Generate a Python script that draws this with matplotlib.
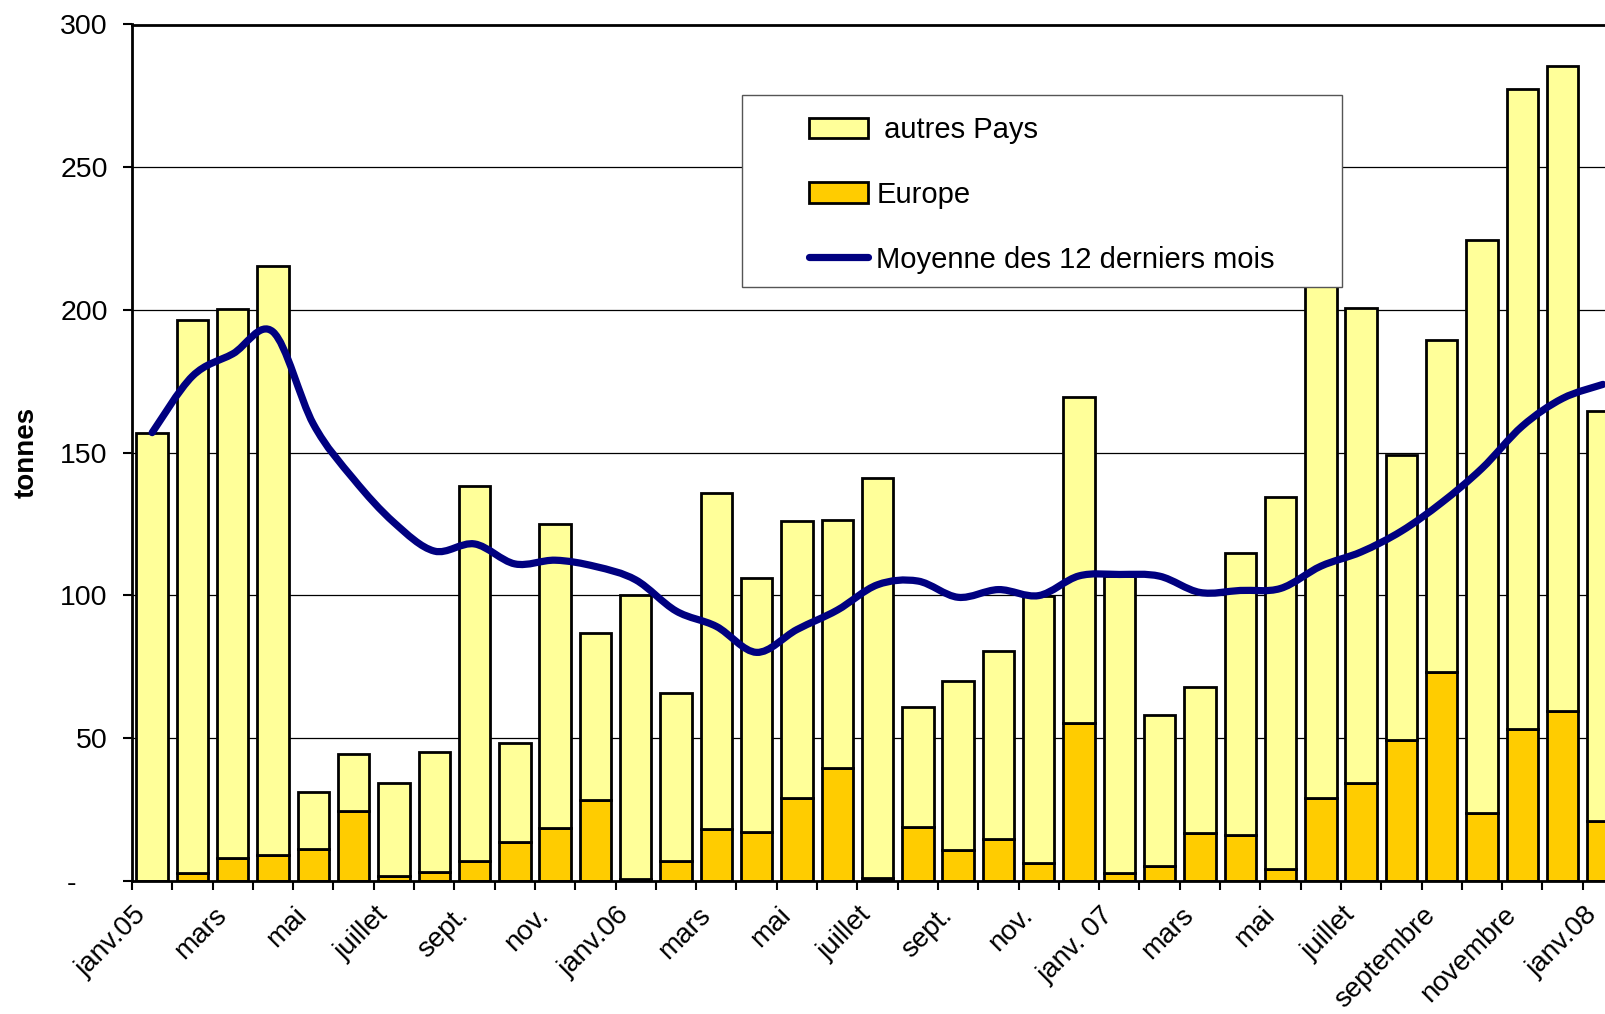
import numpy as np
import matplotlib
matplotlib.use('Agg')
import matplotlib.pyplot as plt
from matplotlib.path import Path
from matplotlib.patches import PathPatch, Patch, Rectangle
from matplotlib.lines import Line2D
from matplotlib.transforms import ScaledTranslation

plt.rcParams['font.family'] = ['Liberation Sans', 'DejaVu Sans']

# ---------- données (tonnes par mois, janv.05 -> janv.08) ----------
MOIS = ['janv.05', 'févr.', 'mars', 'avr.', 'mai', 'juin', 'juillet', 'août',
        'sept.', 'oct.', 'nov.', 'déc.',
        'janv.06', 'févr.', 'mars', 'avr.', 'mai', 'juin', 'juillet', 'août',
        'sept.', 'oct.', 'nov.', 'déc.',
        'janv. 07', 'févr.', 'mars', 'avr.', 'mai', 'juin', 'juillet', 'août',
        'septembre', 'octobre', 'novembre', 'décembre',
        'janv.08']

europe = [0, 2.6, 7.8, 8.9, 11.1, 24.5, 1.6, 3.0, 6.9, 13.4, 18.4, 28.3,
          0.7, 6.9, 18.0, 17.2, 29.1, 39.6, 1.0, 18.9, 10.8, 14.6, 6.1, 55.4,
          2.6, 5.2, 16.6, 15.9, 4.1, 29.1, 34.4, 49.3, 73.1, 23.6, 53.1, 59.6,
          21.0]

autres_pays = [157.0, 193.9, 192.5, 206.5, 19.9, 19.8, 32.7, 42.1, 131.3, 34.8, 106.6, 58.4,
               99.5, 58.8, 118.0, 88.8, 97.0, 86.9, 140.1, 42.0, 59.0, 66.0, 93.5, 114.1,
               104.2, 52.7, 51.2, 98.9, 130.4, 190.9, 166.2, 100.0, 116.2, 200.8, 224.4, 225.9,
               143.7]

moyenne_12 = [157.0, 176.8, 184.6, 192.3, 160.0, 140.7, 125.5, 115.5, 118.0, 111.0, 112.3, 110.1,
              105.4, 94.5, 89.1, 80.0, 88.0, 94.8, 103.7, 105.0, 99.3, 102.0, 99.9, 106.8,
              107.3, 106.7, 101.0, 101.7, 102.4, 110.2, 115.2, 122.5, 132.5, 144.5, 159.3, 169.0,
              173.9]

Y_TICKS = [0, 50, 100, 150, 200, 250, 300]
Y_LABELS = ['-    ', '50', '100', '150', '200', '250', '300']

JAUNE_CLAIR = '#FFFF99'
ORANGE = '#FFCC00'
MARINE = '#000080'

W, H = 1606, 1014
fig = plt.figure(figsize=(W / 100, H / 100), dpi=100)

# zone de tracé : axe à x=132 px, 40.3 px par mois, coupée à droite
n = len(MOIS)
ax_left, ax_bottom, ax_top = 132, 880.7, 24.5
ax = fig.add_axes([ax_left / W, 1 - ax_bottom / H, n * 40.3 / W, (ax_bottom - ax_top) / H])

x = np.arange(n)
ax.bar(x, europe, width=0.78, color=ORANGE, edgecolor='black', linewidth=2, zorder=2)
ax.bar(x, autres_pays, width=0.78, bottom=europe, color=JAUNE_CLAIR,
       edgecolor='black', linewidth=2, zorder=2)

# courbe lissée (style Excel) passant par les points de la moyenne
y = np.asarray(moyenne_12, dtype=float)
verts = [(x[0], y[0])]
codes = [Path.MOVETO]
for i in range(n - 1):
    i0, i3 = max(i - 1, 0), min(i + 2, n - 1)
    c1 = (x[i] + (x[i + 1] - x[i0]) / 6, y[i] + (y[i + 1] - y[i0]) / 6)
    c2 = (x[i + 1] - (x[i3] - x[i]) / 6, y[i + 1] - (y[i3] - y[i]) / 6)
    verts += [c1, c2, (x[i + 1], y[i + 1])]
    codes += [Path.CURVE4] * 3
ax.add_patch(PathPatch(Path(verts, codes), facecolor='none', edgecolor=MARINE,
                       linewidth=5.2, capstyle='round', joinstyle='round', zorder=3))

ax.set_xlim(-0.5, n - 0.5)
ax.set_ylim(0, 300)

# axes
ax.spines['right'].set_visible(False)
for s in ['left', 'bottom', 'top']:
    ax.spines[s].set_linewidth(2)
    ax.spines[s].set_color('black')
ax.set_axisbelow(True)
ax.yaxis.grid(True, color='black', linewidth=0.9)

ax.set_yticks(Y_TICKS)
ax.set_yticklabels(Y_LABELS)
ax.tick_params(axis='y', direction='out', length=6.5, width=1.5, pad=11, labelsize=20.5)

ax.set_xticks(np.arange(-0.5, n, 1))
ax.set_xticklabels([])
ax.tick_params(axis='x', which='major', direction='out', length=6.5, width=1.5)
ax.set_xticks(x[::2], minor=True)
ax.set_xticklabels(MOIS[::2], minor=True, rotation=45, ha='right',
                   rotation_mode='anchor', va='center')
ax.tick_params(axis='x', which='minor', length=0, pad=22, labelsize=20)
decal = ScaledTranslation(-10 / 100, 0, fig.dpi_scale_trans)
for lab in ax.get_xticklabels(minor=True):
    lab.set_transform(lab.get_transform() + decal)

ax.set_ylabel('tonnes', fontsize=20, fontweight='bold')
ax.yaxis.set_label_coords(-0.062, 0.5)

# légende
fig.add_artist(Rectangle((742 / W, 1 - 287 / H), (1342 - 742) / W, (287 - 95) / H,
                         transform=fig.transFigure, facecolor='white',
                         edgecolor='#555555', linewidth=1, zorder=4))
handles = [Patch(facecolor=JAUNE_CLAIR, edgecolor='black', linewidth=2),
           Patch(facecolor=ORANGE, edgecolor='black', linewidth=2),
           Line2D([], [], color=MARINE, linewidth=5.2, solid_capstyle='round')]
labels = [' autres Pays', 'Europe', 'Moyenne des 12 derniers mois']
leg = fig.legend(handles, labels, loc='upper left', bbox_to_anchor=(809 / W, 1 - 116 / H),
                 frameon=False, fontsize=21, borderpad=0, borderaxespad=0,
                 handlelength=2.03, handleheight=0.7, handletextpad=0.28, labelspacing=1.26)
leg.set_zorder(5)

fig.savefig('out.png', dpi=100)
